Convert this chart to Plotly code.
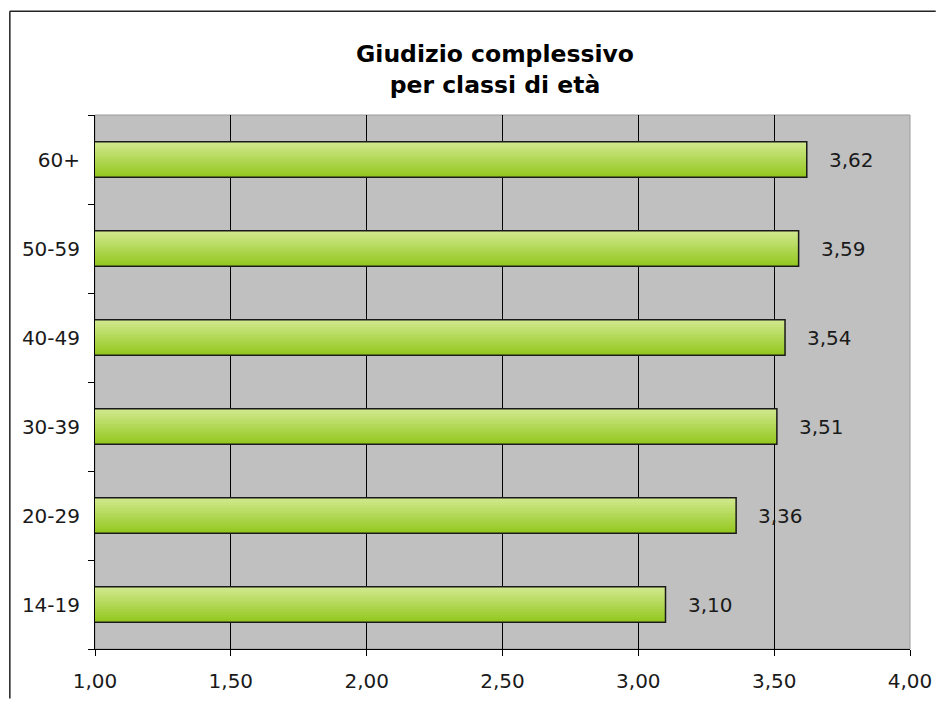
import plotly.graph_objects as go

categories = ["14-19", "20-29", "30-39", "40-49", "50-59", "60+"]
values = [3.10, 3.36, 3.51, 3.54, 3.59, 3.62]
x_ticks = [1.0, 1.5, 2.0, 2.5, 3.0, 3.5, 4.0]

FONT = "DejaVu Sans"
BAR_W = 0.4
N_LAYERS = 14
TOP_RGB = (208, 232, 140)
BOT_RGB = (148, 200, 32)

W, H = 944, 705
L, R, T, B = 95, 26, 115, 50
PW, PH = W - L - R, H - T - B

fig = go.Figure()

# fake vertical gradient: stacked overlay layers, light on top, dark at bottom
for i in range(N_LAYERS):
    t = i / (N_LAYERS - 1)
    rgb = tuple(int(round(a + (b - a) * t)) for a, b in zip(TOP_RGB, BOT_RGB))
    w = BAR_W * (N_LAYERS - i) / N_LAYERS
    fig.add_trace(go.Bar(
        y=categories, x=values, orientation="h",
        width=w, offset=-BAR_W / 2,
        marker=dict(color="rgb(%d,%d,%d)" % rgb, line=dict(width=0)),
        hoverinfo="skip", showlegend=False,
    ))

# outline
fig.add_trace(go.Bar(
    y=categories, x=values, orientation="h",
    width=BAR_W, offset=-BAR_W / 2,
    marker=dict(color="rgba(0,0,0,0)", line=dict(color="#1a1a1a", width=1.5)),
    showlegend=False,
))

for c, v in zip(categories, values):
    fig.add_annotation(
        x=v, y=c, text=f"{v:.2f}".replace(".", ","),
        xanchor="left", yanchor="middle", xshift=20, showarrow=False,
        font=dict(family=FONT, size=20, color="#1a1a1a"),
    )

# outer chart border, only left and top edges are visible (rest is cropped)
bx = (9 - L) / PW
by = 1 + (T - 10) / PH
fig.add_shape(type="line", xref="paper", yref="paper",
              x0=bx, x1=bx, y0=-B / PH, y1=by,
              line=dict(color="#222222", width=1.5))
fig.add_shape(type="line", xref="paper", yref="paper",
              x0=bx, x1=1 + R / PW, y0=by, y1=by,
              line=dict(color="#222222", width=1.5))
# plot area border
fig.add_shape(type="rect", xref="paper", yref="paper",
              x0=0, x1=1, y0=0, y1=1,
              line=dict(color="#9a9a9a", width=1), layer="below")

fig.update_xaxes(
    range=[1, 4], tickvals=x_ticks, tickformat=".2f",
    showgrid=True, gridcolor="#000000", gridwidth=1,
    showline=True, linecolor="#000000", linewidth=1,
    ticks="outside", ticklen=6, tickcolor="#000000",
    ticklabelstandoff=8, zeroline=False,
    tickfont=dict(family=FONT, size=20, color="#1a1a1a"),
)
fig.update_yaxes(
    categoryorder="array", categoryarray=categories,
    showgrid=False, showline=True, linecolor="#000000", linewidth=1,
    ticks="outside", ticklen=6, tickcolor="#000000", tickson="boundaries",
    ticklabelstandoff=10,
    tickfont=dict(family=FONT, size=20, color="#1a1a1a"),
)

fig.update_layout(
    barmode="overlay",
    separators=",.",
    width=W, height=H,
    margin=dict(l=L, r=R, t=T, b=B),
    paper_bgcolor="#ffffff",
    plot_bgcolor="#c0c0c0",
    title=dict(
        text="<b>Giudizio complessivo<br>per classi di età</b>",
        x=495 / W, xanchor="center", xref="container",
        y=1 - 62 / H, yanchor="middle", yref="container",
        font=dict(family=FONT, size=23.5, color="#000000"),
    ),
)

# page margin off so the figure sits at the window's top-left corner
fig.write_html("out.html", config={"displayModeBar": False},
               post_script="document.body.style.margin = '0';")
